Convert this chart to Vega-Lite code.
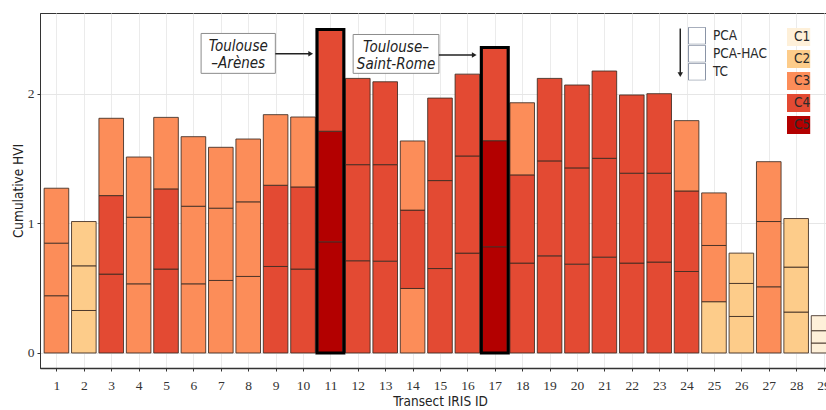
{
  "$schema": "https://vega.github.io/schema/vega-lite/v6.json",
  "width": 800,
  "height": 355,
  "padding": {"left": 11, "top": 13, "right": 0, "bottom": 0},
  "background": "white",
  "config": {
    "view": {"stroke": "#333333", "strokeWidth": 1},
    "font": "DejaVu Sans",
    "axis": {"labelColor": "#333333", "titleColor": "#222222", "titleFontWeight": "normal"}
  },
  "datasets": {
    "hvi": [
      {"id":1,"method":"TC","value":0.442,"cls":"C3"},{"id":1,"method":"PCA-HAC","value":0.406,"cls":"C3"},{"id":1,"method":"PCA","value":0.424,"cls":"C3"},
      {"id":2,"method":"TC","value":0.328,"cls":"C2"},{"id":2,"method":"PCA-HAC","value":0.345,"cls":"C2"},{"id":2,"method":"PCA","value":0.342,"cls":"C2"},
      {"id":3,"method":"TC","value":0.609,"cls":"C4"},{"id":3,"method":"PCA-HAC","value":0.606,"cls":"C4"},{"id":3,"method":"PCA","value":0.597,"cls":"C3"},
      {"id":4,"method":"TC","value":0.534,"cls":"C3"},{"id":4,"method":"PCA-HAC","value":0.514,"cls":"C3"},{"id":4,"method":"PCA","value":0.465,"cls":"C3"},
      {"id":5,"method":"TC","value":0.648,"cls":"C4"},{"id":5,"method":"PCA-HAC","value":0.619,"cls":"C4"},{"id":5,"method":"PCA","value":0.552,"cls":"C3"},
      {"id":6,"method":"TC","value":0.534,"cls":"C3"},{"id":6,"method":"PCA-HAC","value":0.599,"cls":"C3"},{"id":6,"method":"PCA","value":0.537,"cls":"C3"},
      {"id":7,"method":"TC","value":0.560,"cls":"C3"},{"id":7,"method":"PCA-HAC","value":0.558,"cls":"C3"},{"id":7,"method":"PCA","value":0.470,"cls":"C3"},
      {"id":8,"method":"TC","value":0.591,"cls":"C3"},{"id":8,"method":"PCA-HAC","value":0.576,"cls":"C3"},{"id":8,"method":"PCA","value":0.485,"cls":"C3"},
      {"id":9,"method":"TC","value":0.668,"cls":"C4"},{"id":9,"method":"PCA-HAC","value":0.627,"cls":"C4"},{"id":9,"method":"PCA","value":0.545,"cls":"C3"},
      {"id":10,"method":"TC","value":0.648,"cls":"C4"},{"id":10,"method":"PCA-HAC","value":0.634,"cls":"C4"},{"id":10,"method":"PCA","value":0.540,"cls":"C3"},
      {"id":11,"method":"TC","value":0.858,"cls":"C5"},{"id":11,"method":"PCA-HAC","value":0.854,"cls":"C5"},{"id":11,"method":"PCA","value":0.785,"cls":"C4"},
      {"id":12,"method":"TC","value":0.712,"cls":"C4"},{"id":12,"method":"PCA-HAC","value":0.742,"cls":"C4"},{"id":12,"method":"PCA","value":0.666,"cls":"C4"},
      {"id":13,"method":"TC","value":0.709,"cls":"C4"},{"id":13,"method":"PCA-HAC","value":0.745,"cls":"C4"},{"id":13,"method":"PCA","value":0.640,"cls":"C4"},
      {"id":14,"method":"TC","value":0.498,"cls":"C3"},{"id":14,"method":"PCA-HAC","value":0.605,"cls":"C4"},{"id":14,"method":"PCA","value":0.534,"cls":"C3"},
      {"id":15,"method":"TC","value":0.652,"cls":"C4"},{"id":15,"method":"PCA-HAC","value":0.679,"cls":"C4"},{"id":15,"method":"PCA","value":0.637,"cls":"C4"},
      {"id":16,"method":"TC","value":0.771,"cls":"C4"},{"id":16,"method":"PCA-HAC","value":0.750,"cls":"C4"},{"id":16,"method":"PCA","value":0.632,"cls":"C4"},
      {"id":17,"method":"TC","value":0.820,"cls":"C5"},{"id":17,"method":"PCA-HAC","value":0.819,"cls":"C5"},{"id":17,"method":"PCA","value":0.720,"cls":"C4"},
      {"id":18,"method":"TC","value":0.694,"cls":"C4"},{"id":18,"method":"PCA-HAC","value":0.681,"cls":"C4"},{"id":18,"method":"PCA","value":0.557,"cls":"C3"},
      {"id":19,"method":"TC","value":0.750,"cls":"C4"},{"id":19,"method":"PCA-HAC","value":0.733,"cls":"C4"},{"id":19,"method":"PCA","value":0.637,"cls":"C4"},
      {"id":20,"method":"TC","value":0.686,"cls":"C4"},{"id":20,"method":"PCA-HAC","value":0.743,"cls":"C4"},{"id":20,"method":"PCA","value":0.640,"cls":"C4"},
      {"id":21,"method":"TC","value":0.740,"cls":"C4"},{"id":21,"method":"PCA-HAC","value":0.763,"cls":"C4"},{"id":21,"method":"PCA","value":0.674,"cls":"C4"},
      {"id":22,"method":"TC","value":0.694,"cls":"C4"},{"id":22,"method":"PCA-HAC","value":0.694,"cls":"C4"},{"id":22,"method":"PCA","value":0.604,"cls":"C4"},
      {"id":23,"method":"TC","value":0.702,"cls":"C4"},{"id":23,"method":"PCA-HAC","value":0.686,"cls":"C4"},{"id":23,"method":"PCA","value":0.614,"cls":"C4"},
      {"id":24,"method":"TC","value":0.629,"cls":"C4"},{"id":24,"method":"PCA-HAC","value":0.622,"cls":"C4"},{"id":24,"method":"PCA","value":0.543,"cls":"C3"},
      {"id":25,"method":"TC","value":0.396,"cls":"C2"},{"id":25,"method":"PCA-HAC","value":0.434,"cls":"C3"},{"id":25,"method":"PCA","value":0.406,"cls":"C3"},
      {"id":26,"method":"TC","value":0.282,"cls":"C2"},{"id":26,"method":"PCA-HAC","value":0.255,"cls":"C2"},{"id":26,"method":"PCA","value":0.234,"cls":"C2"},
      {"id":27,"method":"TC","value":0.511,"cls":"C3"},{"id":27,"method":"PCA-HAC","value":0.504,"cls":"C3"},{"id":27,"method":"PCA","value":0.462,"cls":"C3"},
      {"id":28,"method":"TC","value":0.316,"cls":"C2"},{"id":28,"method":"PCA-HAC","value":0.347,"cls":"C2"},{"id":28,"method":"PCA","value":0.375,"cls":"C2"},
      {"id":29,"method":"TC","value":0.077,"cls":"C1"},{"id":29,"method":"PCA-HAC","value":0.095,"cls":"C1"},{"id":29,"method":"PCA","value":0.116,"cls":"C1"}
    ],
    "notes": [
      {"x":6.28,"x2":8.99,"y":2.467,"y2":2.159,"cx":7.635,"cy":2.369,"label":"Toulouse|–Arènes"},
      {"x":11.83,"x2":14.96,"y":2.459,"y2":2.159,"cx":13.395,"cy":2.362,"label":"Toulouse–|Saint-Rome"}
    ],
    "harrows": [
      {"x":8.99,"x2":10.28,"y":2.31},
      {"x":14.96,"x2":16.25,"y":2.30}
    ],
    "varrow": [
      {"x":23.77,"y":2.505,"y2":2.15}
    ]
  },
  "layer": [
    {
      "data": {"name": "hvi"},
      "mark": {"type": "bar", "orient": "vertical", "size": 24.6, "stroke": "#3d2b22", "strokeWidth": 1, "strokeOpacity": 0.85},
      "encoding": {
        "x": {"field": "id", "type": "quantitative", "scale": {"domain": [0.4, 29.6], "nice": false, "zero": false, "padding": 0},
          "axis": {"values": [1,2,3,4,5,6,7,8,9,10,11,12,13,14,15,16,17,18,19,20,21,22,23,24,25,26,27,28,29], "format": "d", "title": "Transect IRIS ID", "titleFont": "DejaVu Sans Condensed, DejaVu Sans", "titleFontSize": 13.5, "titlePadding": 3, "labelFont": "Liberation Serif", "labelFontSize": 13.5, "labelPadding": 7, "labelFlush": false, "labelOverlap": false, "tickColor": "#333333", "tickSize": 3, "domain": true, "domainColor": "#333333", "domainWidth": 1.5, "grid": true, "gridColor": "#ebebeb", "gridWidth": 1}},
        "y": {"field": "value", "type": "quantitative", "stack": "zero", "scale": {"domain": [-0.116, 2.625], "nice": false, "zero": false},
          "axis": {"values": [0, 0.5, 1, 1.5, 2, 2.5], "format": "d", "labelExpr": "datum.value % 1 === 0 ? datum.label : ''", "title": "Cumulative HVI", "titleFont": "DejaVu Sans Condensed, DejaVu Sans", "titleFontSize": 13.5, "titlePadding": 2, "labelFont": "Liberation Serif", "labelFontSize": 13.5, "labelPadding": 3, "labelOverlap": false, "tickColor": {"condition": {"test": "datum.value % 1 === 0", "value": "#333333"}, "value": "transparent"}, "tickSize": 3, "domain": true, "domainColor": "#333333", "grid": true, "gridColor": {"condition": {"test": "datum.value % 1 === 0", "value": "#e6e6e6"}, "value": "#f1f1f1"}}},
        "order": {"field": "method", "sort": "descending"},
        "color": {
          "field": "cls", "type": "nominal",
          "scale": {"domain": ["C1","C2","C3","C4","C5"], "range": ["#fef0d9","#fdcc8a","#fc8d59","#e34a33","#b30000"]},
          "legend": {
            "orient": "none", "legendX": 747, "legendY": 15,
            "title": null,
            "symbolType": "M-1,-0.5625H1V0.5625H-1Z",
            "symbolSize": 1024,
            "symbolStrokeWidth": 0,
            "symbolOpacity": 1,
            "clipHeight": 18,
            "rowPadding": 4,
            "labelOffset": -25,
            "labelFont": "DejaVu Sans Condensed, DejaVu Sans", "labelFontSize": 13.5, "labelColor": "#2a2a2a"
          }
        }
      }
    },
    {
      "data": {"name": "hvi"},
      "transform": [{"filter": "false"}],
      "mark": {"type": "square", "color": "#8a94a6", "strokeWidth": 1, "filled": false},
      "encoding": {
        "x": {"field": "id", "type": "quantitative", "scale": {"domain": [0.4, 29.6], "nice": false, "zero": false, "padding": 0},
          "axis": {"values": [1,2,3,4,5,6,7,8,9,10,11,12,13,14,15,16,17,18,19,20,21,22,23,24,25,26,27,28,29], "format": "d", "title": "Transect IRIS ID", "titleFont": "DejaVu Sans Condensed, DejaVu Sans", "titleFontSize": 13.5, "titlePadding": 3, "labelFont": "Liberation Serif", "labelFontSize": 13.5, "labelPadding": 7, "labelFlush": false, "labelOverlap": false, "tickColor": "#333333", "tickSize": 3, "domain": true, "domainColor": "#333333", "domainWidth": 1.5, "grid": true, "gridColor": "#ebebeb", "gridWidth": 1}},
        "y": {"field": "value", "type": "quantitative", "scale": {"domain": [-0.116, 2.625], "nice": false, "zero": false},
          "axis": {"values": [0, 0.5, 1, 1.5, 2, 2.5], "format": "d", "labelExpr": "datum.value % 1 === 0 ? datum.label : ''", "title": "Cumulative HVI", "titleFont": "DejaVu Sans Condensed, DejaVu Sans", "titleFontSize": 13.5, "titlePadding": 2, "labelFont": "Liberation Serif", "labelFontSize": 13.5, "labelPadding": 3, "labelOverlap": false, "tickColor": {"condition": {"test": "datum.value % 1 === 0", "value": "#333333"}, "value": "transparent"}, "tickSize": 3, "domain": true, "domainColor": "#333333", "grid": true, "gridColor": {"condition": {"test": "datum.value % 1 === 0", "value": "#e6e6e6"}, "value": "#f1f1f1"}}},
        "opacity": {
          "field": "method", "type": "nominal",
          "scale": {"domain": ["PCA","PCA-HAC","TC"], "range": [1, 1, 1]},
          "legend": {
            "orient": "none", "legendX": 648, "legendY": 14,
            "title": null,
            "symbolType": "square",
            "symbolSize": 289,
            "symbolFillColor": "white",
            "symbolStrokeColor": "#8a94a6",
            "symbolStrokeWidth": 1,
            "clipHeight": 17.5,
            "rowPadding": 0,
            "labelOffset": 7,
            "labelFont": "DejaVu Sans Condensed, DejaVu Sans", "labelFontSize": 13.5, "labelColor": "#2a2a2a"
          }
        }
      }
    },
    {
      "data": {"name": "hvi"},
      "transform": [{"filter": "datum.id == 11 || datum.id == 17"}],
      "mark": {"type": "bar", "orient": "vertical", "size": 27, "fill": "transparent", "stroke": "#000000", "strokeWidth": 3},
      "encoding": {
        "x": {"field": "id", "type": "quantitative", "scale": {"domain": [0.4, 29.6], "nice": false, "zero": false, "padding": 0},
          "axis": {"values": [1,2,3,4,5,6,7,8,9,10,11,12,13,14,15,16,17,18,19,20,21,22,23,24,25,26,27,28,29], "format": "d", "title": "Transect IRIS ID", "titleFont": "DejaVu Sans Condensed, DejaVu Sans", "titleFontSize": 13.5, "titlePadding": 3, "labelFont": "Liberation Serif", "labelFontSize": 13.5, "labelPadding": 7, "labelFlush": false, "labelOverlap": false, "tickColor": "#333333", "tickSize": 3, "domain": true, "domainColor": "#333333", "domainWidth": 1.5, "grid": true, "gridColor": "#ebebeb", "gridWidth": 1}},
        "y": {"aggregate": "sum", "field": "value", "type": "quantitative", "scale": {"domain": [-0.116, 2.625], "nice": false, "zero": false},
          "axis": {"values": [0, 0.5, 1, 1.5, 2, 2.5], "format": "d", "labelExpr": "datum.value % 1 === 0 ? datum.label : ''", "title": "Cumulative HVI", "titleFont": "DejaVu Sans Condensed, DejaVu Sans", "titleFontSize": 13.5, "titlePadding": 2, "labelFont": "Liberation Serif", "labelFontSize": 13.5, "labelPadding": 3, "labelOverlap": false, "tickColor": {"condition": {"test": "datum.value % 1 === 0", "value": "#333333"}, "value": "transparent"}, "tickSize": 3, "domain": true, "domainColor": "#333333", "grid": true, "gridColor": {"condition": {"test": "datum.value % 1 === 0", "value": "#e6e6e6"}, "value": "#f1f1f1"}}}
      }
    },
    {
      "data": {"name": "notes"},
      "mark": {"type": "rect", "fill": "white", "stroke": "#8c8c8c", "strokeWidth": 1},
      "encoding": {
        "x": {"field": "x", "type": "quantitative", "scale": {"domain": [0.4, 29.6], "nice": false, "zero": false, "padding": 0},
          "axis": {"values": [1,2,3,4,5,6,7,8,9,10,11,12,13,14,15,16,17,18,19,20,21,22,23,24,25,26,27,28,29], "format": "d", "title": "Transect IRIS ID", "titleFont": "DejaVu Sans Condensed, DejaVu Sans", "titleFontSize": 13.5, "titlePadding": 3, "labelFont": "Liberation Serif", "labelFontSize": 13.5, "labelPadding": 7, "labelFlush": false, "labelOverlap": false, "tickColor": "#333333", "tickSize": 3, "domain": true, "domainColor": "#333333", "domainWidth": 1.5, "grid": true, "gridColor": "#ebebeb", "gridWidth": 1}},
        "x2": {"field": "x2"},
        "y": {"field": "y", "type": "quantitative", "scale": {"domain": [-0.116, 2.625], "nice": false, "zero": false},
          "axis": {"values": [0, 0.5, 1, 1.5, 2, 2.5], "format": "d", "labelExpr": "datum.value % 1 === 0 ? datum.label : ''", "title": "Cumulative HVI", "titleFont": "DejaVu Sans Condensed, DejaVu Sans", "titleFontSize": 13.5, "titlePadding": 2, "labelFont": "Liberation Serif", "labelFontSize": 13.5, "labelPadding": 3, "labelOverlap": false, "tickColor": {"condition": {"test": "datum.value % 1 === 0", "value": "#333333"}, "value": "transparent"}, "tickSize": 3, "domain": true, "domainColor": "#333333", "grid": true, "gridColor": {"condition": {"test": "datum.value % 1 === 0", "value": "#e6e6e6"}, "value": "#f1f1f1"}}},
        "y2": {"field": "y2"}
      }
    },
    {
      "data": {"name": "notes"},
      "mark": {"type": "text", "font": "Liberation Sans Narrow, DejaVu Sans Condensed, DejaVu Sans", "fontSize": 15, "fontStyle": "italic", "color": "#222222", "lineBreak": "|", "lineHeight": 17, "align": "center", "baseline": "middle"},
      "encoding": {
        "x": {"field": "cx", "type": "quantitative", "scale": {"domain": [0.4, 29.6], "nice": false, "zero": false, "padding": 0},
          "axis": {"values": [1,2,3,4,5,6,7,8,9,10,11,12,13,14,15,16,17,18,19,20,21,22,23,24,25,26,27,28,29], "format": "d", "title": "Transect IRIS ID", "titleFont": "DejaVu Sans Condensed, DejaVu Sans", "titleFontSize": 13.5, "titlePadding": 3, "labelFont": "Liberation Serif", "labelFontSize": 13.5, "labelPadding": 7, "labelFlush": false, "labelOverlap": false, "tickColor": "#333333", "tickSize": 3, "domain": true, "domainColor": "#333333", "domainWidth": 1.5, "grid": true, "gridColor": "#ebebeb", "gridWidth": 1}},
        "y": {"field": "cy", "type": "quantitative", "scale": {"domain": [-0.116, 2.625], "nice": false, "zero": false},
          "axis": {"values": [0, 0.5, 1, 1.5, 2, 2.5], "format": "d", "labelExpr": "datum.value % 1 === 0 ? datum.label : ''", "title": "Cumulative HVI", "titleFont": "DejaVu Sans Condensed, DejaVu Sans", "titleFontSize": 13.5, "titlePadding": 2, "labelFont": "Liberation Serif", "labelFontSize": 13.5, "labelPadding": 3, "labelOverlap": false, "tickColor": {"condition": {"test": "datum.value % 1 === 0", "value": "#333333"}, "value": "transparent"}, "tickSize": 3, "domain": true, "domainColor": "#333333", "grid": true, "gridColor": {"condition": {"test": "datum.value % 1 === 0", "value": "#e6e6e6"}, "value": "#f1f1f1"}}},
        "text": {"field": "label", "type": "nominal"}
      }
    },
    {
      "data": {"name": "harrows"},
      "mark": {"type": "rule", "color": "#222222", "strokeWidth": 1.5},
      "encoding": {
        "x": {"field": "x", "type": "quantitative", "scale": {"domain": [0.4, 29.6], "nice": false, "zero": false, "padding": 0},
          "axis": {"values": [1,2,3,4,5,6,7,8,9,10,11,12,13,14,15,16,17,18,19,20,21,22,23,24,25,26,27,28,29], "format": "d", "title": "Transect IRIS ID", "titleFont": "DejaVu Sans Condensed, DejaVu Sans", "titleFontSize": 13.5, "titlePadding": 3, "labelFont": "Liberation Serif", "labelFontSize": 13.5, "labelPadding": 7, "labelFlush": false, "labelOverlap": false, "tickColor": "#333333", "tickSize": 3, "domain": true, "domainColor": "#333333", "domainWidth": 1.5, "grid": true, "gridColor": "#ebebeb", "gridWidth": 1}},
        "x2": {"field": "x2"},
        "y": {"field": "y", "type": "quantitative", "scale": {"domain": [-0.116, 2.625], "nice": false, "zero": false},
          "axis": {"values": [0, 0.5, 1, 1.5, 2, 2.5], "format": "d", "labelExpr": "datum.value % 1 === 0 ? datum.label : ''", "title": "Cumulative HVI", "titleFont": "DejaVu Sans Condensed, DejaVu Sans", "titleFontSize": 13.5, "titlePadding": 2, "labelFont": "Liberation Serif", "labelFontSize": 13.5, "labelPadding": 3, "labelOverlap": false, "tickColor": {"condition": {"test": "datum.value % 1 === 0", "value": "#333333"}, "value": "transparent"}, "tickSize": 3, "domain": true, "domainColor": "#333333", "grid": true, "gridColor": {"condition": {"test": "datum.value % 1 === 0", "value": "#e6e6e6"}, "value": "#f1f1f1"}}}
      }
    },
    {
      "data": {"name": "harrows"},
      "mark": {"type": "point", "shape": "triangle-right", "filled": true, "color": "#222222", "size": 30, "opacity": 1},
      "encoding": {
        "x": {"field": "x2", "type": "quantitative", "scale": {"domain": [0.4, 29.6], "nice": false, "zero": false, "padding": 0},
          "axis": {"values": [1,2,3,4,5,6,7,8,9,10,11,12,13,14,15,16,17,18,19,20,21,22,23,24,25,26,27,28,29], "format": "d", "title": "Transect IRIS ID", "titleFont": "DejaVu Sans Condensed, DejaVu Sans", "titleFontSize": 13.5, "titlePadding": 3, "labelFont": "Liberation Serif", "labelFontSize": 13.5, "labelPadding": 7, "labelFlush": false, "labelOverlap": false, "tickColor": "#333333", "tickSize": 3, "domain": true, "domainColor": "#333333", "domainWidth": 1.5, "grid": true, "gridColor": "#ebebeb", "gridWidth": 1}},
        "y": {"field": "y", "type": "quantitative", "scale": {"domain": [-0.116, 2.625], "nice": false, "zero": false},
          "axis": {"values": [0, 0.5, 1, 1.5, 2, 2.5], "format": "d", "labelExpr": "datum.value % 1 === 0 ? datum.label : ''", "title": "Cumulative HVI", "titleFont": "DejaVu Sans Condensed, DejaVu Sans", "titleFontSize": 13.5, "titlePadding": 2, "labelFont": "Liberation Serif", "labelFontSize": 13.5, "labelPadding": 3, "labelOverlap": false, "tickColor": {"condition": {"test": "datum.value % 1 === 0", "value": "#333333"}, "value": "transparent"}, "tickSize": 3, "domain": true, "domainColor": "#333333", "grid": true, "gridColor": {"condition": {"test": "datum.value % 1 === 0", "value": "#e6e6e6"}, "value": "#f1f1f1"}}}
      }
    },
    {
      "data": {"name": "varrow"},
      "mark": {"type": "rule", "color": "#222222", "strokeWidth": 1.5},
      "encoding": {
        "x": {"field": "x", "type": "quantitative", "scale": {"domain": [0.4, 29.6], "nice": false, "zero": false, "padding": 0},
          "axis": {"values": [1,2,3,4,5,6,7,8,9,10,11,12,13,14,15,16,17,18,19,20,21,22,23,24,25,26,27,28,29], "format": "d", "title": "Transect IRIS ID", "titleFont": "DejaVu Sans Condensed, DejaVu Sans", "titleFontSize": 13.5, "titlePadding": 3, "labelFont": "Liberation Serif", "labelFontSize": 13.5, "labelPadding": 7, "labelFlush": false, "labelOverlap": false, "tickColor": "#333333", "tickSize": 3, "domain": true, "domainColor": "#333333", "domainWidth": 1.5, "grid": true, "gridColor": "#ebebeb", "gridWidth": 1}},
        "y": {"field": "y", "type": "quantitative", "scale": {"domain": [-0.116, 2.625], "nice": false, "zero": false},
          "axis": {"values": [0, 0.5, 1, 1.5, 2, 2.5], "format": "d", "labelExpr": "datum.value % 1 === 0 ? datum.label : ''", "title": "Cumulative HVI", "titleFont": "DejaVu Sans Condensed, DejaVu Sans", "titleFontSize": 13.5, "titlePadding": 2, "labelFont": "Liberation Serif", "labelFontSize": 13.5, "labelPadding": 3, "labelOverlap": false, "tickColor": {"condition": {"test": "datum.value % 1 === 0", "value": "#333333"}, "value": "transparent"}, "tickSize": 3, "domain": true, "domainColor": "#333333", "grid": true, "gridColor": {"condition": {"test": "datum.value % 1 === 0", "value": "#e6e6e6"}, "value": "#f1f1f1"}}},
        "y2": {"field": "y2"}
      }
    },
    {
      "data": {"name": "varrow"},
      "mark": {"type": "point", "shape": "triangle-down", "filled": true, "color": "#222222", "size": 30, "opacity": 1},
      "encoding": {
        "x": {"field": "x", "type": "quantitative", "scale": {"domain": [0.4, 29.6], "nice": false, "zero": false, "padding": 0},
          "axis": {"values": [1,2,3,4,5,6,7,8,9,10,11,12,13,14,15,16,17,18,19,20,21,22,23,24,25,26,27,28,29], "format": "d", "title": "Transect IRIS ID", "titleFont": "DejaVu Sans Condensed, DejaVu Sans", "titleFontSize": 13.5, "titlePadding": 3, "labelFont": "Liberation Serif", "labelFontSize": 13.5, "labelPadding": 7, "labelFlush": false, "labelOverlap": false, "tickColor": "#333333", "tickSize": 3, "domain": true, "domainColor": "#333333", "domainWidth": 1.5, "grid": true, "gridColor": "#ebebeb", "gridWidth": 1}},
        "y": {"field": "y2", "type": "quantitative", "scale": {"domain": [-0.116, 2.625], "nice": false, "zero": false},
          "axis": {"values": [0, 0.5, 1, 1.5, 2, 2.5], "format": "d", "labelExpr": "datum.value % 1 === 0 ? datum.label : ''", "title": "Cumulative HVI", "titleFont": "DejaVu Sans Condensed, DejaVu Sans", "titleFontSize": 13.5, "titlePadding": 2, "labelFont": "Liberation Serif", "labelFontSize": 13.5, "labelPadding": 3, "labelOverlap": false, "tickColor": {"condition": {"test": "datum.value % 1 === 0", "value": "#333333"}, "value": "transparent"}, "tickSize": 3, "domain": true, "domainColor": "#333333", "grid": true, "gridColor": {"condition": {"test": "datum.value % 1 === 0", "value": "#e6e6e6"}, "value": "#f1f1f1"}}}
      }
    }
  ]
}
